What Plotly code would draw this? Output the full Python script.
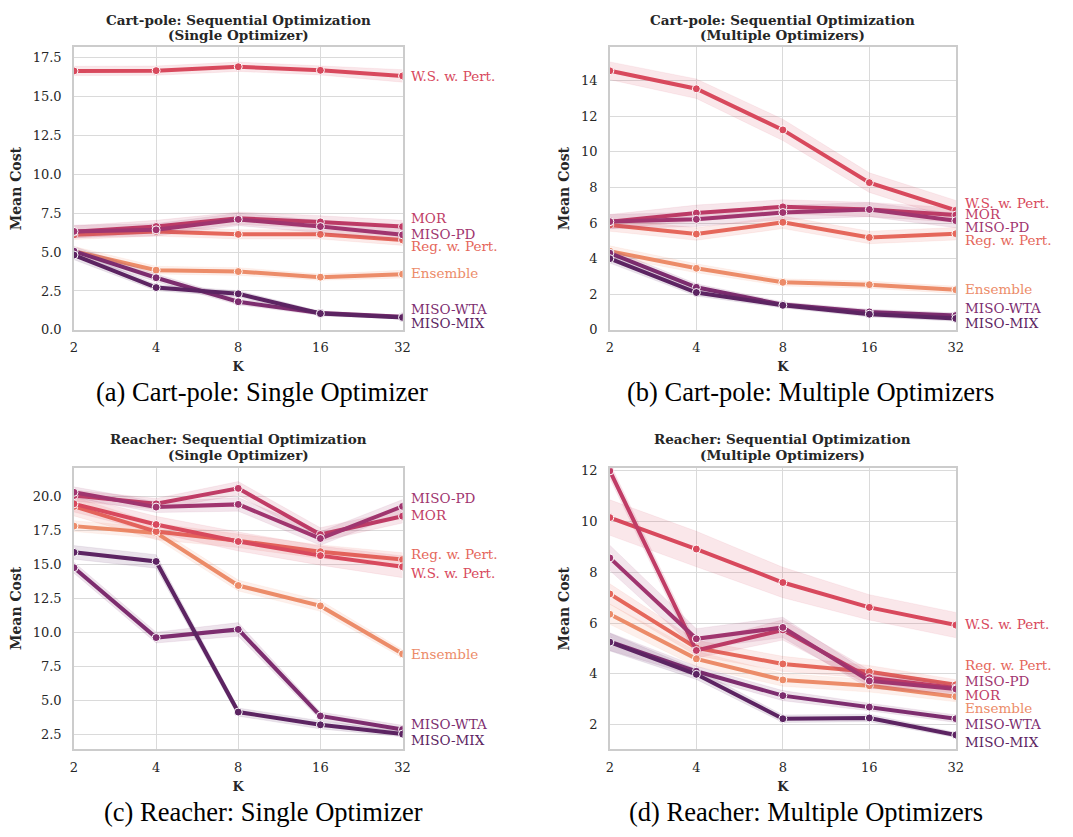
import plotly.graph_objects as go

W, H = 1073, 837
OFF = 8  # page body margin
FW, FH = W - 2 * OFF, H - 2 * OFF

K = [2, 4, 8, 16, 32]
K_TICKS = ["2", "4", "8", "16", "32"]

METHODS = ["Ensemble", "Reg. w. Pert.", "W.S. w. Pert.", "MOR", "MISO-PD", "MISO-WTA", "MISO-MIX"]
COLORS = {
    "Ensemble": "#ec8c69",
    "Reg. w. Pert.": "#e5675b",
    "W.S. w. Pert.": "#d8495d",
    "MOR": "#c03c66",
    "MISO-PD": "#a0356f",
    "MISO-WTA": "#7d2d6f",
    "MISO-MIX": "#5c2462",
}

# ---- (a) Cart-pole, single optimizer ----
a_ens = [5.06, 3.84, 3.75, 3.39, 3.58]
a_reg = [6.11, 6.33, 6.14, 6.14, 5.78]
a_ws = [16.64, 16.66, 16.91, 16.68, 16.32]
a_mor = [6.30, 6.64, 7.17, 6.94, 6.64]
a_pd = [6.33, 6.43, 7.10, 6.64, 6.11]
a_wta = [5.06, 3.35, 1.81, 1.08, 0.84]
a_mix = [4.81, 2.72, 2.32, 1.05, 0.80]
a_ci = {
    "Ensemble": [0.30, 0.25, 0.25, 0.20, 0.25],
    "Reg. w. Pert.": [0.30, 0.30, 0.30, 0.30, 0.35],
    "W.S. w. Pert.": [0.30, 0.30, 0.30, 0.30, 0.40],
    "MOR": [0.40, 0.40, 0.40, 0.40, 0.40],
    "MISO-PD": [0.40, 0.40, 0.40, 0.40, 0.40],
    "MISO-WTA": [0.30, 0.25, 0.20, 0.15, 0.10],
    "MISO-MIX": [0.30, 0.20, 0.20, 0.15, 0.10],
}

# ---- (b) Cart-pole, multiple optimizers ----
b_ens = [4.42, 3.46, 2.67, 2.54, 2.25]
b_reg = [5.89, 5.38, 6.04, 5.19, 5.40]
b_ws = [14.55, 13.54, 11.23, 8.27, 6.72]
b_mor = [6.08, 6.56, 6.91, 6.76, 6.45]
b_pd = [6.08, 6.21, 6.59, 6.76, 6.13]
b_wta = [4.31, 2.39, 1.42, 1.01, 0.81]
b_mix = [4.00, 2.10, 1.38, 0.88, 0.64]
b_ci = {
    "Ensemble": [0.30, 0.25, 0.20, 0.20, 0.20],
    "Reg. w. Pert.": [0.35, 0.35, 0.35, 0.35, 0.35],
    "W.S. w. Pert.": [0.50, 0.55, 0.60, 0.55, 0.55],
    "MOR": [0.40, 0.45, 0.40, 0.40, 0.40],
    "MISO-PD": [0.40, 0.40, 0.40, 0.40, 0.40],
    "MISO-WTA": [0.25, 0.20, 0.15, 0.15, 0.15],
    "MISO-MIX": [0.25, 0.20, 0.15, 0.15, 0.15],
}

# ---- (c) Reacher, single optimizer ----
c_ens = [17.80, 17.30, 13.43, 11.93, 8.40]
c_reg = [19.25, 17.40, 16.72, 15.92, 15.34]
c_ws = [19.44, 17.92, 16.67, 15.63, 14.81]
c_mor = [20.05, 19.44, 20.58, 17.18, 18.53]
c_pd = [20.29, 19.20, 19.40, 16.89, 19.25]
c_wta = [14.74, 9.60, 10.20, 3.83, 2.84]
c_mix = [15.87, 15.20, 4.12, 3.18, 2.50]
c_ci = {
    "Ensemble": [0.40, 0.40, 0.40, 0.40, 0.30],
    "Reg. w. Pert.": [0.70, 0.60, 0.50, 0.50, 0.50],
    "W.S. w. Pert.": [0.60, 0.60, 0.70, 0.70, 0.80],
    "MOR": [0.40, 0.40, 0.50, 0.50, 0.50],
    "MISO-PD": [0.40, 0.40, 0.50, 0.50, 0.50],
    "MISO-WTA": [0.40, 0.40, 0.50, 0.30, 0.30],
    "MISO-MIX": [0.50, 0.50, 0.30, 0.30, 0.20],
}

# ---- (d) Reacher, multiple optimizers ----
d_ens = [6.35, 4.59, 3.76, 3.53, 3.10]
d_reg = [7.15, 5.02, 4.39, 4.08, 3.57]
d_ws = [10.16, 8.92, 7.60, 6.62, 5.92]
d_mor = [12.00, 4.92, 5.73, 3.85, 3.44]
d_pd = [8.57, 5.38, 5.83, 3.72, 3.40]
d_wta = [5.27, 4.10, 3.14, 2.69, 2.23]
d_mix = [5.25, 3.98, 2.23, 2.26, 1.59]
d_ci = {
    "Ensemble": [0.40, 0.30, 0.25, 0.25, 0.20],
    "Reg. w. Pert.": [0.40, 0.30, 0.30, 0.25, 0.20],
    "W.S. w. Pert.": [0.70, 0.70, 0.60, 0.50, 0.50],
    "MOR": [0.30, 0.30, 0.40, 0.30, 0.20],
    "MISO-PD": [0.50, 0.40, 0.40, 0.30, 0.20],
    "MISO-WTA": [0.35, 0.20, 0.20, 0.15, 0.15],
    "MISO-MIX": [0.35, 0.20, 0.15, 0.15, 0.10],
}

TITLES = [
    ("Cart-pole: Sequential Optimization", "(Single Optimizer)"),
    ("Cart-pole: Sequential Optimization", "(Multiple Optimizers)"),
    ("Reacher: Sequential Optimization", "(Single Optimizer)"),
    ("Reacher: Sequential Optimization", "(Multiple Optimizers)"),
]
CAPTIONS = [
    "(a) Cart-pole: Single Optimizer",
    "(b) Cart-pole: Multiple Optimizers",
    "(c) Reacher: Single Optimizer",
    "(d) Reacher: Multiple Optimizers",
]
Y_TICKS = [
    [0, 2.5, 5, 7.5, 10, 12.5, 15, 17.5],
    [0, 2, 4, 6, 8, 10, 12, 14],
    [2.5, 5, 7.5, 10, 12.5, 15, 17.5, 20],
    [2, 4, 6, 8, 10, 12],
]
Y_FMT = [".1f", "d", ".1f", "d"]

# label y positions (data units) for right-side series labels
LABEL_Y = [
    {"W.S. w. Pert.": 16.34, "MOR": 7.17, "MISO-PD": 6.18, "Reg. w. Pert.": 5.38,
     "Ensemble": 3.63, "MISO-WTA": 1.37, "MISO-MIX": 0.46},
    {"W.S. w. Pert.": 7.15, "MOR": 6.48, "MISO-PD": 5.76, "Reg. w. Pert.": 5.06,
     "Ensemble": 2.28, "MISO-WTA": 1.23, "MISO-MIX": 0.37},
    {"MISO-PD": 19.86, "MOR": 18.60, "Reg. w. Pert.": 15.78, "W.S. w. Pert.": 14.33,
     "Ensemble": 8.39, "MISO-WTA": 3.22, "MISO-MIX": 2.07},
    {"W.S. w. Pert.": 5.95, "Reg. w. Pert.": 4.33, "MISO-PD": 3.72, "MOR": 3.18,
     "Ensemble": 2.66, "MISO-WTA": 2.04, "MISO-MIX": 1.33},
]

PANELS = [
    dict(data=[a_ens, a_reg, a_ws, a_mor, a_pd, a_wta, a_mix], ci=a_ci, yr=[0, 18.15],
         box=(70.7, 403.0, 43.0, 330.0)),
    dict(data=[b_ens, b_reg, b_ws, b_mor, b_pd, b_wta, b_mix], ci=b_ci, yr=[0, 15.86],
         box=(612.7, 962.7, 43.0, 330.0)),
    dict(data=[c_ens, c_reg, c_ws, c_mor, c_pd, c_wta, c_mix], ci=c_ci, yr=[1.39, 22.1],
         box=(70.7, 403.0, 470.0, 756.0)),
    dict(data=[d_ens, d_reg, d_ws, d_mor, d_pd, d_wta, d_mix], ci=d_ci, yr=[1.03, 12.1],
         box=(612.7, 962.7, 470.7, 756.0)),
]
CAPTION_POS = [(261, 393), (816, 393), (262, 820), (811, 820)]
TITLE_Y = [(15, 30.7), (15, 30.7), (441, 456.7), (441, 456.7)]


def px(xp):
    return (xp - OFF) / FW


def py(yp):
    return 1 - (yp - OFF) / FH


def hex_rgba(h, a):
    h = h.lstrip("#")
    r, g, b = int(h[0:2], 16), int(h[2:4], 16), int(h[4:6], 16)
    return f"rgba({r},{g},{b},{a})"


SERIF = "DejaVu Serif"
TXT = "#262626"
fig = go.Figure()
annotations = []
layout_axes = {}

for i, p in enumerate(PANELS):
    n = "" if i == 0 else str(i + 1)
    xa, ya = "x" + n, "y" + n
    x0, x1, y0, y1 = p["box"]
    for m, vals in zip(METHODS, p["data"]):
        col = COLORS[m]
        ci = p["ci"][m]
        up = [v + c for v, c in zip(vals, ci)]
        lo = [v - c for v, c in zip(vals, ci)]
        fig.add_trace(go.Scatter(
            x=K + K[::-1], y=up + lo[::-1], fill="toself",
            fillcolor=hex_rgba(col, 0.13), line=dict(width=0.6, color=hex_rgba(col, 0.12)),
            hoverinfo="skip", showlegend=False, xaxis=xa, yaxis=ya, mode="lines"))
        fig.add_trace(go.Scatter(
            x=K, y=vals, mode="lines+markers", name=m, showlegend=False,
            line=dict(color=col, width=4),
            marker=dict(size=8, color=col, line=dict(color="white", width=1)),
            xaxis=xa, yaxis=ya))
        annotations.append(dict(
            x=px(x1 + 7), xref="paper", y=LABEL_Y[i][m], yref=ya,
            text=m, showarrow=False, xanchor="left", yanchor="middle",
            font=dict(family=SERIF, size=13.5, color=col)))
    layout_axes["xaxis" + n] = dict(
        domain=[px(x0), px(x1)], anchor=ya, type="log",
        range=[0.30103, 1.50515], tickvals=K, ticktext=K_TICKS,
        showgrid=True, gridcolor="#dadada", gridwidth=1.2,
        showline=True, linecolor="#cccccc", linewidth=1.5, mirror=True,
        ticks="", zeroline=False, ticklabelstandoff=5,
        tickfont=dict(family=SERIF, size=13, color=TXT),
        title=dict(text="<b>K</b>", font=dict(family=SERIF, size=13, color=TXT), standoff=8))
    layout_axes["yaxis" + n] = dict(
        domain=[py(y1), py(y0)], anchor=xa, range=p["yr"],
        tickvals=Y_TICKS[i], tickformat=Y_FMT[i],
        showgrid=True, gridcolor="#dadada", gridwidth=1.2,
        showline=True, linecolor="#cccccc", linewidth=1.5, mirror=True,
        ticks="", zeroline=False, ticklabelstandoff=8,
        tickfont=dict(family=SERIF, size=13, color=TXT),
        title=dict(text="<b>Mean Cost</b>", font=dict(family=SERIF, size=14, color=TXT), standoff=8))
    # subplot title (two lines)
    for line_txt, ty in zip(TITLES[i], TITLE_Y[i]):
        annotations.append(dict(
            x=px((x0 + x1) / 2), xref="paper", y=py(ty), yref="paper",
            text="<b>" + line_txt + "</b>", showarrow=False, xanchor="center", yanchor="middle",
            font=dict(family=SERIF, size=13.5, color=TXT)))
    cx, cy = CAPTION_POS[i]
    annotations.append(dict(
        x=px(cx), xref="paper", y=py(cy), yref="paper",
        text=CAPTIONS[i], showarrow=False, xanchor="center", yanchor="middle",
        font=dict(family="Liberation Serif", size=26.5, color="black")))

fig.update_layout(
    width=FW, height=FH, autosize=False,
    margin=dict(l=0, r=0, t=0, b=0),
    paper_bgcolor="white", plot_bgcolor="white",
    annotations=annotations, **layout_axes)

fig.write_html("out.html")
